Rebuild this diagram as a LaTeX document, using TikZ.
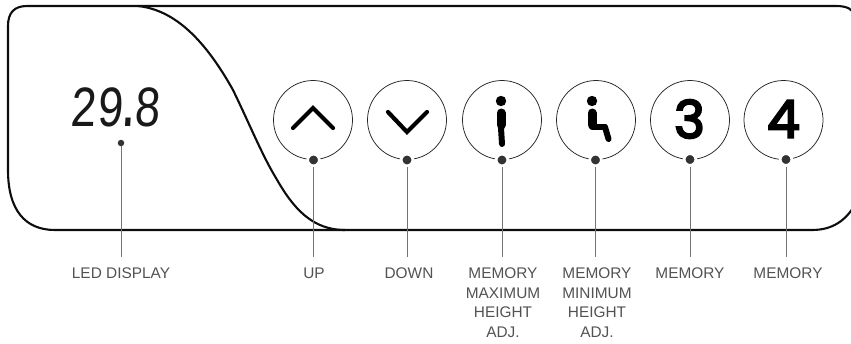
\documentclass[tikz,border=0pt]{standalone}
\usepackage{fontspec}
\setmainfont{Liberation Sans}
\newfontfamily\digitfont[FakeBold=4]{Poppins}
\newfontfamily\ledfont{Liberation Mono}
\tikzset{
  x=1pt,y=-1pt,
  panel/.style={line width=2.1pt,black!95},
  button/.style={circle,draw=black!85,line width=0.75pt,minimum size=79pt,inner sep=0pt},
  pin/.style={circle,fill=black!80,draw=white,line width=2.6pt,minimum size=11.5pt,inner sep=0pt},
  ledpin/.style={circle,fill=black!80,minimum size=6.5pt,inner sep=0pt},
  leader/.style={line width=0.9pt,black!55},
  gap/.style={white,line width=8pt},
  chevron/.style={line width=4.2pt,line cap=round,line join=miter},
  icon/.style={line cap=round,line join=round},
  lbl/.style={anchor=north,align=center,font=\fontsize{15.4}{19.5}\selectfont,text=black!68,inner sep=0pt},
  digit/.style={font=\digitfont\fontsize{52}{52}\selectfont,inner sep=0pt,text=black},
}
\begin{document}
\begin{tikzpicture}
\useasboundingbox (0,0) rectangle (851,343);
% panel outline
\draw[panel] (856,17) .. controls (853,9) and (847,6) .. (836,6) -- (27,6)
  .. controls (14,6) and (8,13) .. (8,26) -- (8,170)
  .. controls (8,210) and (25,230) .. (55,230) -- (812,230)
  .. controls (832,230) and (846,221) .. (856,203);
\draw[panel] (138,6) .. controls (175,10) and (205,40) .. (233,90)
  .. controls (250,125) and (262,155) .. (276,178)
  .. controls (293,208) and (312,230) .. (345,230);
% LED value
\node[font=\ledfont\fontsize{58}{58}\selectfont,inner sep=0pt,xscale=0.78,xslant=0.08,transform shape,text=black!90] (led) at (116,107.5) {29\kern-11pt.\kern-11pt8};
% buttons
\node[button] (up) at (313,120) {};
\node[button] (down) at (407,120) {};
\node[button] (maxb) at (502,120) {};
\node[button] (minb) at (596,120) {};
\node[button] (three) at (690,120) {};
\node[button] (four) at (783.5,120) {};
% icons
\draw[chevron] (293,128) -- (313,108) -- (333,128);
\draw[chevron] (388,112) -- (407,132) -- (427,112);
\fill (501,101) circle (5.2);
\draw[icon,line width=9pt] (501,113) -- (501,125);
\draw[icon,line width=6pt] (501,128) -- (502,144);
\fill (592,101) circle (5.2);
\draw[icon,line width=9pt] (592,113) -- (592,125);
\draw[icon,line width=5.5pt] (592,127) -- (605,127);
\draw[icon,line width=6pt] (605,127) -- (608.5,139);
\node[digit] at (689.5,119) {3};
\node[digit] at (783.5,119) {4};
% pins
\node[ledpin] (pled) at (121,143) {};
\node[pin] (pup) at (313.5,160) {};
\node[pin] (pdown) at (407,160) {};
\node[pin] (pmax) at (502,160) {};
\node[pin] (pmin) at (595.5,160) {};
\node[pin] (pthree) at (690,159.5) {};
\node[pin] (pfour) at (786,159.5) {};
% leader ends
\coordinate (eled) at (121,257);
\coordinate (eup) at (313.5,257);
\coordinate (edown) at (407,257);
\coordinate (emax) at (502,257);
\coordinate (emin) at (595.5,257);
\coordinate (ethree) at (690,257);
\coordinate (efour) at (786,257);
% gaps in the panel line
\foreach \n in {eled,eup,edown,emax,emin,ethree,efour}
  \draw[gap] ([yshift=-31]\n) -- ([yshift=-23]\n);
% leaders
\draw[leader] (pled) -- (eled);
\draw[leader] (pup) -- (eup);
\draw[leader] (pdown) -- (edown);
\draw[leader] (pmax) -- (emax);
\draw[leader] (pmin) -- (emin);
\draw[leader] (pthree) -- (ethree);
\draw[leader] (pfour) -- (efour);
% labels
\node[lbl] (lled) at (121,268) {LED DISPLAY};
\node[lbl] (lup) at (314,268) {UP};
\node[lbl] (ldown) at (409,268) {DOWN};
\node[lbl] (lmax) at (503,268) {MEMORY\\MAXIMUM\\HEIGHT\\ADJ.};
\node[lbl] (lmin) at (597,268) {MEMORY\\MINIMUM\\HEIGHT\\ADJ.};
\node[lbl] (lthree) at (690,268) {MEMORY};
\node[lbl] (lfour) at (788,268) {MEMORY};
\end{tikzpicture}
\end{document}
